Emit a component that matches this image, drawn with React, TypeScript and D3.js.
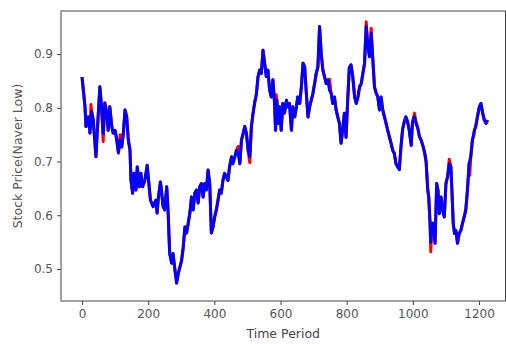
import React, { useEffect, useRef } from "react";
import * as d3 from "d3";

// time index of each traced point
const periods = [
  0, 4, 9, 12, 19, 24, 29, 34, 42, 47, 54, 59, 64, 69, 75, 79, 84, 90, 94, 100,
  105, 110, 115, 120, 125, 130, 135, 140, 145, 148, 153, 157, 163, 167, 173, 178, 183, 190, 197, 203,
  207, 215, 223, 227, 231, 237, 240, 245, 250, 256, 260, 265, 271, 275, 281, 286, 291, 296, 301, 306,
  311, 316, 321, 326, 331, 336, 341, 346, 351, 356, 361, 366, 371, 376, 381, 386, 391, 396, 401, 406,
  411, 416, 421, 426, 431, 436, 441, 446, 452, 456, 462, 467, 472, 477, 482, 487, 492, 497, 502, 507,
  512, 517, 522, 527, 532, 537, 542, 547, 552, 557, 562, 567, 572, 577, 582, 585, 589, 593, 597, 602,
  607, 612, 618, 622, 627, 633, 637, 643, 648, 652, 658, 663, 668, 673, 678, 683, 688, 693, 698, 703,
  708, 713, 718, 723, 728, 733, 738, 743, 748, 753, 758, 763, 768, 773, 778, 783, 788, 793, 798, 803,
  808, 813, 818, 824, 829, 834, 839, 844, 849, 854, 859, 864, 869, 874, 879, 884, 889, 894, 899, 904,
  909, 914, 919, 924, 929, 934, 939, 944, 949, 954, 959, 964, 969, 974, 979, 984, 989, 995, 999, 1005,
  1010, 1015, 1020, 1025, 1030, 1035, 1040, 1045, 1048, 1052, 1054, 1058, 1062, 1067, 1072, 1076, 1080, 1085, 1090, 1095,
  1100, 1105, 1110, 1115, 1118, 1122, 1126, 1130, 1135, 1140, 1145, 1150, 1155, 1160, 1165, 1170, 1175, 1180, 1186, 1190,
  1195, 1201, 1206, 1211, 1216, 1221, 1226,
];

// predicted low (blue)
const predictedLow = [
  0.857, 0.833, 0.802, 0.765, 0.783, 0.753, 0.793, 0.777, 0.709, 0.765, 0.839, 0.802, 0.752, 0.809, 0.79, 0.758, 0.802, 0.765, 0.753, 0.758,
  0.74, 0.716, 0.74, 0.727, 0.753, 0.796, 0.783, 0.74, 0.721, 0.665, 0.641, 0.678, 0.647, 0.69, 0.653, 0.678, 0.653, 0.665, 0.693, 0.653,
  0.628, 0.616, 0.628, 0.604, 0.634, 0.662, 0.647, 0.616, 0.61, 0.653, 0.61, 0.529, 0.511, 0.529, 0.498, 0.474, 0.492, 0.504, 0.516, 0.541,
  0.578, 0.567, 0.585, 0.604, 0.634, 0.61, 0.641, 0.647, 0.623, 0.653, 0.659, 0.634, 0.659, 0.647, 0.684, 0.659, 0.567, 0.578, 0.597, 0.61,
  0.628, 0.647, 0.641, 0.665, 0.678, 0.672, 0.665, 0.69, 0.709, 0.696, 0.709, 0.721, 0.715, 0.696, 0.74, 0.752, 0.765, 0.752, 0.721, 0.709,
  0.765, 0.79, 0.81, 0.825, 0.858, 0.87, 0.864, 0.907, 0.883, 0.858, 0.87, 0.833, 0.82, 0.852, 0.808, 0.758, 0.814, 0.771, 0.802, 0.758,
  0.808, 0.79, 0.814, 0.802, 0.808, 0.758, 0.802, 0.783, 0.802, 0.82, 0.808, 0.839, 0.883, 0.876, 0.827, 0.783, 0.802, 0.814, 0.827, 0.845,
  0.864, 0.876, 0.951, 0.901, 0.87, 0.858, 0.845, 0.852, 0.833, 0.827, 0.808, 0.82, 0.796, 0.783, 0.771, 0.734, 0.76, 0.79, 0.745, 0.814,
  0.875, 0.88, 0.86, 0.82, 0.808, 0.82, 0.839, 0.845, 0.864, 0.883, 0.951, 0.914, 0.895, 0.939, 0.889, 0.839, 0.827, 0.82, 0.796, 0.82,
  0.796, 0.783, 0.771, 0.758, 0.746, 0.734, 0.721, 0.715, 0.696, 0.69, 0.685, 0.727, 0.76, 0.774, 0.783, 0.774, 0.758, 0.73, 0.774, 0.783,
  0.771, 0.762, 0.746, 0.74, 0.73, 0.718, 0.7, 0.647, 0.634, 0.585, 0.55, 0.585, 0.585, 0.548, 0.659, 0.647, 0.603, 0.634, 0.61, 0.597,
  0.659, 0.672, 0.696, 0.69, 0.647, 0.585, 0.566, 0.572, 0.548, 0.566, 0.572, 0.585, 0.597, 0.61, 0.647, 0.696, 0.709, 0.74, 0.758, 0.765,
  0.783, 0.802, 0.808, 0.79, 0.777, 0.771, 0.777,
];

// places where the actual low (red) shows past the blue line
const actualTipPeriods = [27, 64, 115, 472, 507, 587, 727, 748, 859, 874, 1005, 1054, 1110, 1172, 1185];
const actualTipLow = [0.806, 0.737, 0.75, 0.728, 0.698, 0.824, 0.876, 0.853, 0.96, 0.948, 0.79, 0.532, 0.704, 0.674, 0.75];

const xTicks = [0, 200, 400, 600, 800, 1000, 1200];
const yTicks = [0.5, 0.6, 0.7, 0.8, 0.9];

const W = 506;
const H = 344;

const App = () => {
  const svgRef = useRef<SVGSVGElement>(null);

  useEffect(() => {
    const svg = d3.select(svgRef.current);
    svg.selectAll("*").remove();

    const left = 61;
    const right = 505.5;
    const top = 11;
    const bottom = 301;

    const x = d3.scaleLinear().domain([-63.5, 1280]).range([left, right]);
    const y = d3.scaleLinear().domain([0.4405, 0.98]).range([bottom, top]);

    const blue = periods.map((p, i) => [p, predictedLow[i]] as [number, number]);

    // actual = traced line with the red tips put in
    const tipMap = new Map(actualTipPeriods.map((p, i) => [p, actualTipLow[i]]));
    const red = blue.map(([p, v]) => [p, tipMap.has(p) ? tipMap.get(p)! : v] as [number, number]);
    actualTipPeriods.forEach((p, i) => {
      if (!periods.includes(p)) red.push([p, actualTipLow[i]]);
    });
    red.sort((a, b) => a[0] - b[0]);

    const line = d3
      .line<[number, number]>()
      .x((d) => x(d[0]))
      .y((d) => y(d[1]));

    svg.append("rect").attr("width", W).attr("height", H).attr("fill", "white");

    const plot = svg.append("g");
    plot
      .append("path")
      .attr("d", line(red))
      .attr("fill", "none")
      .attr("stroke", "#ff0000")
      .attr("stroke-width", 3)
      .attr("stroke-linejoin", "round");
    plot
      .append("path")
      .attr("d", line(blue))
      .attr("fill", "none")
      .attr("stroke", "#0000ff")
      .attr("stroke-width", 3)
      .attr("stroke-linejoin", "round");

    // frame
    svg
      .append("rect")
      .attr("x", left)
      .attr("y", top)
      .attr("width", right - left)
      .attr("height", bottom - top)
      .attr("fill", "none")
      .attr("stroke", "#444")
      .attr("stroke-width", 1);

    const xAxis = d3
      .axisBottom(x)
      .tickValues(xTicks)
      .tickSize(4)
      .tickPadding(4)
      .tickFormat((d) => String(d));
    const gx = svg.append("g").attr("transform", `translate(0,${bottom})`).call(xAxis);
    gx.select(".domain").remove();

    const yAxis = d3
      .axisLeft(y)
      .tickValues(yTicks)
      .tickSize(4)
      .tickPadding(4)
      .tickFormat(d3.format(".1f"));
    const gy = svg.append("g").attr("transform", `translate(${left},0)`).call(yAxis);
    gy.select(".domain").remove();

    [gx, gy].forEach((g) => {
      g.selectAll("line").attr("stroke", "#444");
      g.selectAll("text")
        .attr("fill", "#555")
        .style("font-family", "DejaVu Sans")
        .style("font-size", "12px");
    });

    svg
      .append("text")
      .attr("x", (left + right) / 2)
      .attr("y", 338)
      .attr("text-anchor", "middle")
      .attr("fill", "#444")
      .style("font-family", "DejaVu Sans")
      .style("font-size", "12.5px")
      .text("Time Period");

    svg
      .append("text")
      .attr("transform", `translate(22,${(top + bottom) / 2}) rotate(-90)`)
      .attr("text-anchor", "middle")
      .attr("fill", "#555")
      .style("font-family", "DejaVu Sans")
      .style("font-size", "12.5px")
      .text("Stock Price(Naver Low)");
  }, []);

  return (
    <svg
      ref={svgRef}
      width={W}
      height={H}
      style={{ position: "absolute", left: 0, top: 0 }}
    ></svg>
  );
};

export default App;
